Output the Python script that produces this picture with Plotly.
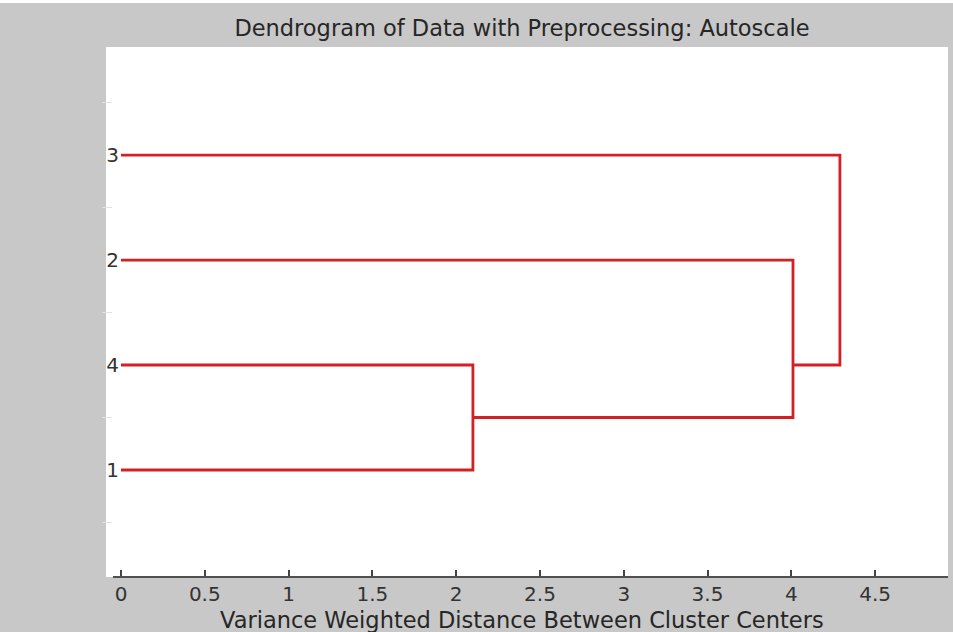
import plotly.graph_objects as go

# Leaves in dendrogram order (bottom to top) and their labels
leaf_labels = ["1", "4", "2", "3"]
leaf_pos = [1, 2, 3, 4]

# Merges: children (leaf index 0..3, merged cluster index 4..), merge distance, node position
merge_children = [(0, 1), (4, 2), (5, 3)]
merge_dist = [2.10, 4.01, 4.29]
merge_node_pos = [1.5, 2.0, 3.0]

x_ticks = [0, 0.5, 1, 1.5, 2, 2.5, 3, 3.5, 4, 4.5]
half_ticks = [0.5, 1.5, 2.5, 3.5, 4.5]
x_range = [-0.006, 4.935]
y_range = [-0.019, 5.029]

RED = "#d42024"
BG = "#c8c8c8"
FONT = "DejaVu Sans"

W, H = 953, 632
ML, MR, MT, MB = 120, 5, 47, 55
PW = W - ML - MR
PH = H - MT - MB

n_leaves = len(leaf_labels)


def node_info(idx):
    """Return (distance, position) of a leaf or merged cluster."""
    if idx < n_leaves:
        return 0.0, leaf_pos[idx]
    k = idx - n_leaves
    return merge_dist[k], merge_node_pos[k]


xs, ys = [], []
for k, (a, b) in enumerate(merge_children):
    da, pa = node_info(a)
    db, pb = node_info(b)
    h = merge_dist[k]
    xs += [da, h, h, db, None]
    ys += [pa, pa, pb, pb, None]

fig = go.Figure()
fig.add_trace(go.Scatter(
    x=xs, y=ys, mode="lines",
    line=dict(color=RED, width=2.8),
    hoverinfo="skip", showlegend=False, cliponaxis=False,
))

shapes = [
    # white panel extending a little left of the axes
    dict(type="rect", xref="paper", yref="paper",
         x0=-14 / PW, x1=0, y0=0, y1=1,
         fillcolor="white", line=dict(width=0), layer="below"),
    # x axis baseline
    dict(type="line", xref="paper", yref="paper",
         x0=-7 / PW, x1=1, y0=0, y1=0,
         line=dict(color="#505050", width=2)),
    # thin white strip along the top edge of the page
    dict(type="rect", xref="paper", yref="paper",
         x0=-ML / PW, x1=1 + MR / PW,
         y0=1 + (MT - 3) / PH, y1=1 + (MT + 2) / PH,
         fillcolor="white", line=dict(width=0), layer="below"),
]
# faint unlabeled ticks between the leaves
for v in half_ticks:
    shapes.append(dict(type="line", xref="paper", yref="y",
                       x0=-18 / PW, x1=-8 / PW, y0=v, y1=v,
                       line=dict(color="#e2e2e2", width=1)))

fig.update_layout(
    width=W, height=H,
    margin=dict(l=ML, r=MR, t=MT, b=MB),
    paper_bgcolor=BG,
    plot_bgcolor="white",
    title=dict(
        text="Dendrogram of Data with Preprocessing: Autoscale",
        font=dict(family=FONT, size=22.5, color="#262626"),
        x=522 / W, xanchor="center",
        y=1 - 28 / H, yanchor="middle", yref="container",
    ),
    xaxis=dict(
        range=x_range,
        tickvals=x_ticks,
        ticktext=[f"{v:g}" for v in x_ticks],
        ticks="inside", ticklen=7, tickwidth=1.5, tickcolor="#444",
        showgrid=False, zeroline=False, showline=False,
        tickfont=dict(family=FONT, size=20, color="#333"),
        ticklabelstandoff=3,
    ),
    yaxis=dict(
        range=y_range,
        tickvals=leaf_pos,
        ticktext=leaf_labels,
        ticks="", ticklabelstandoff=0,
        showgrid=False, zeroline=False, showline=False,
        tickfont=dict(family=FONT, size=20, color="#333"),
    ),
    shapes=shapes,
    annotations=[dict(
        text="Variance Weighted Distance Between Cluster Centers",
        xref="paper", yref="paper",
        x=(522 - ML) / PW, y=-(620 - (H - MB)) / PH,
        xanchor="center", yanchor="middle", showarrow=False,
        font=dict(family=FONT, size=22.5, color="#262626"),
    )],
)

fig.write_html("out.html")
